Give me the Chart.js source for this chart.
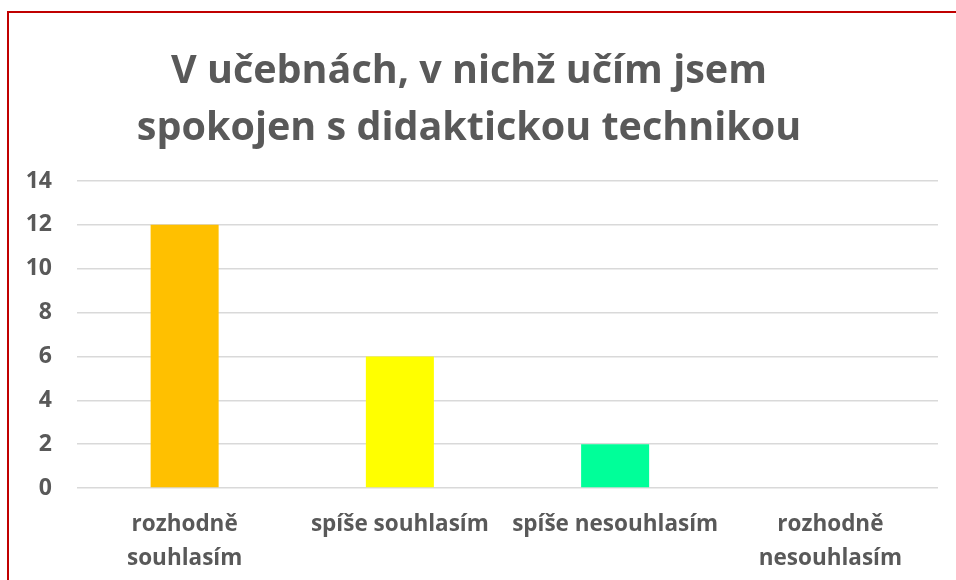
<!DOCTYPE html>
<html>
<head>
<meta charset="utf-8">
<script src="https://cdn.jsdelivr.net/npm/chart.js@4"></script>
<style>
  html, body { margin: 0; padding: 0; background: #fff; overflow: hidden; }
  #wrap { position: relative; width: 956px; height: 580px; }
  #frame { position: absolute; left: 7px; top: 11px; width: 980px; height: 600px; border: 2px solid #C00000; box-sizing: border-box; }
  canvas { position: absolute; left: 0; top: 0; }
</style>
</head>
<body>
<div id="wrap">
  <canvas id="chart" width="956" height="580"></canvas>
  <div id="frame"></div>
</div>
<script>
// Chart data
const TITLE = ["V učebnách, v nichž učím jsem", "spokojen s didaktickou technikou"];
const CATEGORIES = [["rozhodně", "souhlasím"], "spíše souhlasím", "spíše nesouhlasím", ["rozhodně", "nesouhlasím"]];
const VALUES = [12, 6, 2, 0];
const BAR_COLORS = ["#FFC000", "#FFFF00", "#00FF99", "#00B0F0"];
const Y_MAX = 14;
const Y_STEP = 2;

const FONT = "'Open Sans', sans-serif";
const TEXT = "#595959";

new Chart(document.getElementById("chart"), {
  type: "bar",
  data: {
    labels: CATEGORIES,
    datasets: [{
      data: VALUES,
      backgroundColor: BAR_COLORS,
      barPercentage: 0.316,
      categoryPercentage: 1.0,
    }]
  },
  options: {
    responsive: false,
    animation: false,
    layout: { padding: { left: 0, right: 18, top: 0, bottom: 0 } },
    plugins: {
      legend: { display: false },
      tooltip: { enabled: false },
      title: {
        display: true,
        text: TITLE,
        color: TEXT,
        font: { family: FONT, size: 39.5, weight: "bold", lineHeight: 1.443 },
        padding: { top: 43, bottom: 24 }
      }
    },
    scales: {
      y: {
        min: 0,
        max: Y_MAX,
        ticks: { stepSize: Y_STEP, color: TEXT, padding: 25, font: { family: FONT, size: 23, weight: "bold" } },
        grid: { color: "#D9D9D9", lineWidth: 1.5, drawTicks: false },
        border: { display: false },
        afterFit: s => { s.width = 77; }
      },
      x: {
        ticks: { color: TEXT, padding: 20, maxRotation: 0, font: { family: FONT, size: 22.5, weight: "bold", lineHeight: 1.5 } },
        grid: { display: false, drawTicks: false },
        border: { display: false },
        afterFit: s => { s.height = 92; }
      }
    }
  }
});
</script>
</body>
</html>
